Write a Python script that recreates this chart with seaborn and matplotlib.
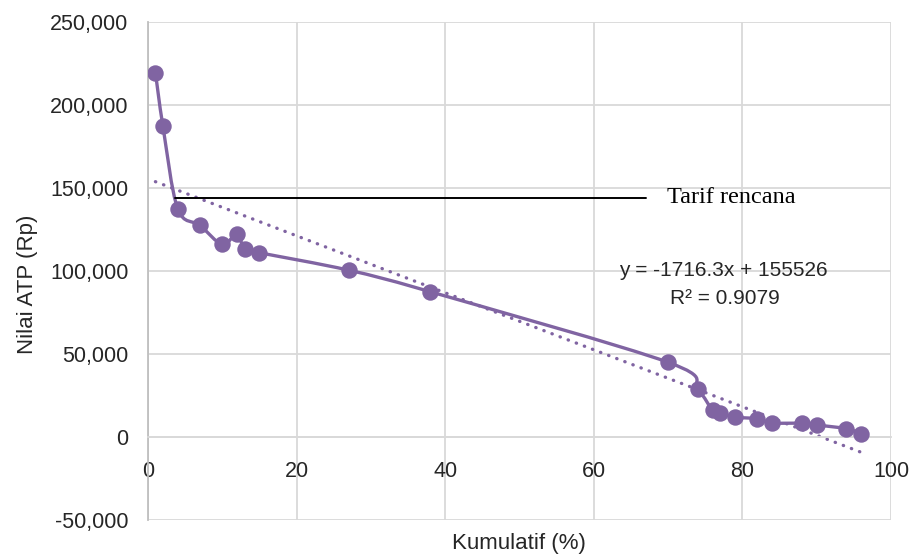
import numpy as np
import pandas as pd
import matplotlib
matplotlib.use("Agg")
import matplotlib.pyplot as plt
from matplotlib.path import Path
from matplotlib.patches import PathPatch
from matplotlib.ticker import FuncFormatter
import seaborn as sns

# ---- data ----
kumulatif = [1, 2, 4, 7, 10, 12, 13, 15, 27, 38, 70, 74, 76, 77, 79, 82, 84, 88, 90, 94, 96]
nilai_atp = [219500, 187500, 137500, 127500, 116000, 122500, 113000, 111000, 100500, 87500,
             45000, 28750, 16000, 14500, 12000, 11000, 8500, 8250, 7250, 5000, 2000]
trend_slope = -1716.3
trend_intercept = 155526
trend_r2 = 0.9079
tarif_rencana = 144000
tarif_x = [3.7, 67]
x_ticks = [0, 20, 40, 60, 80, 100]
y_ticks = [-50000, 0, 50000, 100000, 150000, 200000, 250000]

purple = "#8064A2"
grid_c = "#D9D9D9"
text_c = "#262626"

sns.set_theme(style="white")
plt.rcParams["font.family"] = ["Liberation Sans", "DejaVu Sans"]

fig = plt.figure(figsize=(9.16, 5.54), dpi=100)
ax = fig.add_axes([148/916, 1-520/554, (891-148)/916, (520-22)/554])

df = pd.DataFrame({"x": kumulatif, "y": nilai_atp})

# smoothed line (Excel-like Bezier through the data points)
pts = np.column_stack([df["x"].to_numpy(float), df["y"].to_numpy(float)])
verts = [tuple(pts[0])]
codes = [Path.MOVETO]
n = len(pts)
for i in range(n - 1):
    p0 = pts[i - 1] if i > 0 else pts[i]
    p1 = pts[i]
    p2 = pts[i + 1]
    p3 = pts[i + 2] if i + 2 < n else pts[i + 1]
    c1 = p1 + (p2 - p0) / 6.0
    c2 = p2 - (p3 - p1) / 6.0
    verts += [tuple(c1), tuple(c2), tuple(p2)]
    codes += [Path.CURVE4] * 3
ax.add_patch(PathPatch(Path(verts, codes), facecolor="none", edgecolor=purple,
                       lw=2.4, zorder=3, capstyle="round", joinstyle="round"))

sns.scatterplot(data=df, x="x", y="y", ax=ax, color=purple, s=140,
                edgecolor=purple, linewidth=0, zorder=4, legend=False)

# linear trendline
tx = np.array([min(kumulatif), max(kumulatif)], dtype=float)
ax.plot(tx, trend_slope * tx + trend_intercept, color=purple, lw=2.4,
        linestyle=(0, (0.1, 2.5)), dash_capstyle="round", zorder=2)

# tarif rencana line
ax.plot(tarif_x, [tarif_rencana, tarif_rencana], color="black", lw=1.4, zorder=3)
ax.text(69.9, tarif_rencana, "Tarif rencana", fontsize=17.5, va="center", ha="left",
        family=["Liberation Serif", "DejaVu Serif"], color="black")

ax.text(77.5, 100500, f"y = {trend_slope}x + {trend_intercept}", fontsize=15,
        ha="center", va="center", color=text_c)
ax.text(77.6, 83500, f"R² = {trend_r2}", fontsize=15, ha="center", va="center",
        color=text_c)

ax.set_xlim(0, 100)
ax.set_ylim(-50000, 250000)
ax.set_xticks(x_ticks)
ax.set_yticks(y_ticks)
ax.yaxis.set_major_formatter(FuncFormatter(lambda v, p: f"{int(v):,}"))
ax.grid(True, color=grid_c, lw=1.3)
ax.set_axisbelow(True)

for s in ["top", "right"]:
    ax.spines[s].set_visible(False)
ax.spines["left"].set_color("#BFBFBF")
ax.spines["left"].set_linewidth(1.3)
ax.spines["bottom"].set_position(("data", 0))
ax.spines["bottom"].set_color(grid_c)
ax.spines["bottom"].set_linewidth(1.3)

ax.tick_params(axis="both", length=0, labelsize=15.5, colors=text_c)
ax.tick_params(axis="x", pad=17)
ax.tick_params(axis="y", pad=14)

ax.set_xlabel("")
ax.set_ylabel("")
fig.text(519/916, 1-543/554, "Kumulatif (%)", fontsize=16, ha="center", va="center",
         color=text_c)
fig.text(27/916, 1-284/554, "Nilai ATP (Rp)", fontsize=16, ha="center", va="center",
         rotation=90, color=text_c)

fig.savefig("out.png", dpi=100, facecolor="white")
